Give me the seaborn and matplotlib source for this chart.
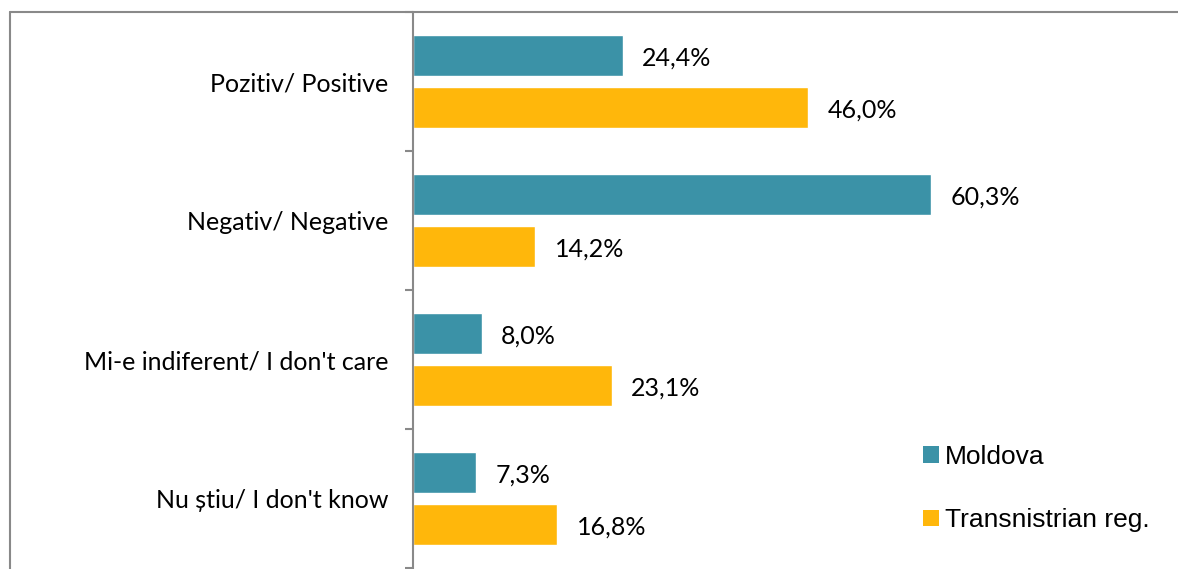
import matplotlib
matplotlib.use("Agg")
import matplotlib.pyplot as plt
from matplotlib.lines import Line2D
from matplotlib.patches import Patch
import seaborn as sns
import pandas as pd

categories = ["Pozitiv/ Positive", "Negativ/ Negative", "Mi-e indiferent/ I don't care", "Nu știu/ I don't know"]
series_names = ["Moldova", "Transnistrian reg."]
moldova = [24.4, 60.3, 8.0, 7.3]
transnistria = [46.0, 14.2, 23.1, 16.8]
colors = ["#3B92A7", "#FFB70B"]

rows = []
for c, m, t in zip(categories, moldova, transnistria):
    rows.append({"category": c, "region": series_names[0], "value": m})
    rows.append({"category": c, "region": series_names[1], "value": t})
df = pd.DataFrame(rows)

sns.set_theme(style="white")
plt.rcParams["font.family"] = ["Lato", "DejaVu Sans"]
plt.rcParams["text.color"] = "#000000"

W, H = 1178, 569
fig = plt.figure(figsize=(W / 100, H / 100), dpi=100)
ax = fig.add_axes([413 / W, 1 / H, 1 - 413 / W, (568 - 12) / H])

sns.barplot(data=df, y="category", x="value", hue="region", order=categories,
            hue_order=series_names, palette=colors, orient="h",
            width=0.741, gap=0.2, saturation=1, legend=False, ax=ax)

ax.set_xlim(0, 89)
ax.set_ylim(len(categories) - 0.5, -0.5)
ax.set_xlabel("")
ax.set_ylabel("")
ax.set_xticks([])

for cont in ax.containers:
    vals = [b.get_width() for b in cont]
    anns = ax.bar_label(cont, labels=[f"{v:.1f}%".replace(".", ",") for v in vals],
                        padding=14, fontsize=18, color="#000000", family=["Lato", "DejaVu Sans"])
    for a in anns:
        a.xyann = (14, -2)

ax.set_yticks(range(len(categories)))
ax.set_yticklabels(categories, fontsize=18, color="#000000")
ax.set_yticks([i - 0.5 for i in range(len(categories) + 1)], minor=True)
ax.tick_params(axis="y", which="major", length=0, pad=18)
ax.tick_params(axis="y", which="minor", length=6, width=1.5, color="#898989", direction="out", left=True)

for s in ["top", "right", "bottom"]:
    ax.spines[s].set_visible(False)
ax.spines["left"].set_color("#898989")
ax.spines["left"].set_linewidth(1.5)

# outer chart frame
fig.add_artist(Line2D([10 / W, 1], [1 - 12 / H, 1 - 12 / H], transform=fig.transFigure, color="#898989", lw=1.5))
fig.add_artist(Line2D([10 / W, 10 / W], [0, 1 - 12 / H], transform=fig.transFigure, color="#898989", lw=1.5))

handles = [Patch(facecolor=colors[0], edgecolor="none"), Patch(facecolor=colors[1], edgecolor="none")]
leg = fig.legend(handles, series_names, loc="upper left", bbox_to_anchor=(899 / W, 1 - 421 / H),
                 frameon=False, handlelength=0.6, handleheight=0.6, handletextpad=0.25,
                 labelspacing=1.5, labelcolor="#000000",
                 prop={"family": "Liberation Sans", "size": 19})

fig.savefig("out.png", dpi=100)
